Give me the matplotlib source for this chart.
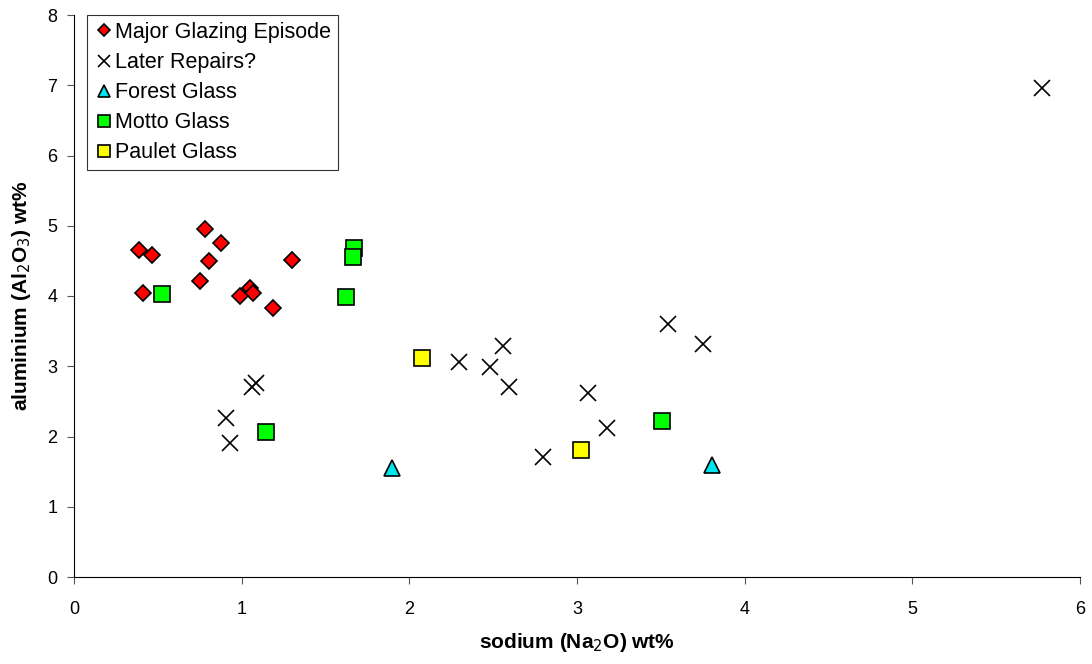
import matplotlib.pyplot as plt

plt.rcParams['font.family'] = ['Liberation Sans', 'DejaVu Sans']

# Major Glazing Episode
major_x = [0.39, 0.467, 0.783, 0.878, 0.807, 1.302, 0.413, 0.749, 1.048, 1.066, 0.99, 1.185]
major_y = [4.66, 4.59, 4.96, 4.76, 4.50, 4.51, 4.04, 4.21, 4.11, 4.04, 4.00, 3.83]

# Later Repairs?
later_x = [1.06, 1.087, 0.905, 0.932, 2.298, 2.482, 2.558, 2.596, 3.063, 3.176, 2.795, 3.54, 3.751, 5.772]
later_y = [2.71, 2.76, 2.26, 1.91, 3.06, 2.99, 3.29, 2.71, 2.62, 2.12, 1.71, 3.60, 3.31, 6.96]

# Forest Glass
forest_x = [1.898, 3.808]
forest_y = [1.55, 1.59]

# Motto Glass
motto_x = [0.527, 1.67, 1.662, 1.62, 1.145, 3.508]
motto_y = [4.03, 4.68, 4.56, 3.99, 2.06, 2.22]

# Paulet Glass
paulet_x = [2.075, 3.025]
paulet_y = [3.12, 1.81]

fig = plt.figure(figsize=(10.92, 6.64), dpi=100)
ax = fig.add_axes([74/1092, 87/664, 1006/1092, 562/664])

ax.plot(major_x, major_y, 'D', color='red', mec='black', mew=1.2, ms=8, label='Major Glazing Episode')
ax.plot(later_x, later_y, 'x', color='black', mew=1.2, ms=11, label='Later Repairs?')
ax.plot(forest_x, forest_y, '^', color='#00e5ee', mec='black', mew=1.2, ms=11.5, label='Forest Glass')
ax.plot(motto_x, motto_y, 's', color='#00ff00', mec='black', mew=1.2, ms=11, label='Motto Glass')
ax.plot(paulet_x, paulet_y, 's', color='yellow', mec='black', mew=1.2, ms=11, label='Paulet Glass')

ax.set_xlim(0, 6)
ax.set_ylim(0, 8)
ax.set_xticks(range(7))
ax.set_yticks(range(9))
ax.spines['top'].set_visible(False)
ax.spines['right'].set_visible(False)
ax.tick_params(labelsize=13, length=5, direction='out', color='#555555')
ax.tick_params(axis='x', pad=12)
ax.tick_params(axis='y', pad=7)

ax.set_xlabel('sodium (Na$_2$O) wt%', fontsize=15, fontweight='bold', labelpad=10)
ax.set_ylabel('aluminium (Al$_2$O$_3$) wt%', fontsize=15, fontweight='bold', labelpad=10)

leg = ax.legend(loc='upper left', bbox_to_anchor=(0.013, 1.0), fontsize=15.5, markerscale=0.8,
                frameon=True, fancybox=False, edgecolor='black', handletextpad=0.1,
                handlelength=0.9, borderpad=0.32, labelspacing=0.425, borderaxespad=0)
leg.get_frame().set_linewidth(0.8)

fig.savefig('out.png', dpi=100)
